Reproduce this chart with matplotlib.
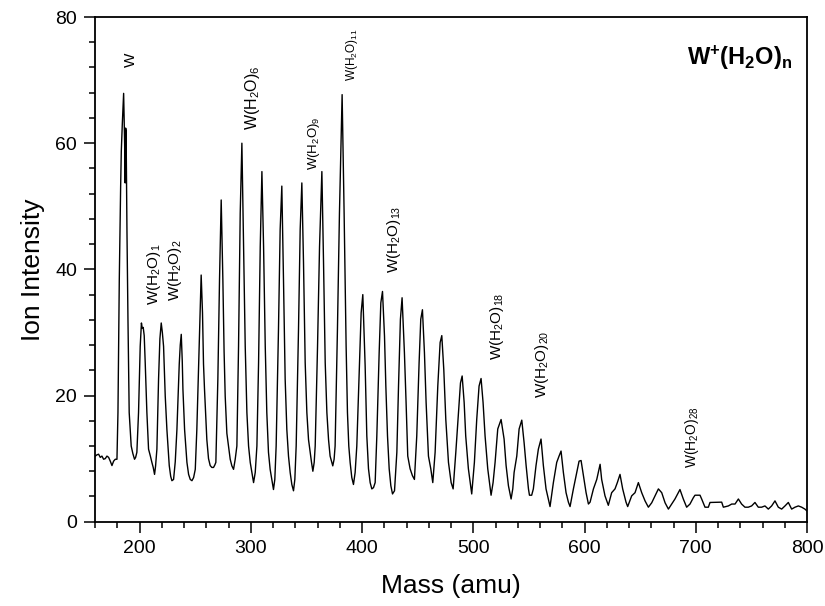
import matplotlib
matplotlib.use("Agg")
import matplotlib.pyplot as plt
from matplotlib.ticker import MultipleLocator

plt.rcParams["font.family"] = ["Liberation Sans", "DejaVu Sans"]
plt.rcParams["mathtext.default"] = "regular"

# trace (mass in amu, ion intensity)
mass = [
    160.2, 161.7, 163.2, 164.7, 166.2, 167.7, 169.2, 170.7, 172.2, 173.7,
    175.2, 176.7, 178.2, 179.7, 180.6, 181.8, 183.0, 183.6, 184.5, 185.7,
    186.6, 187.1, 187.5, 187.9, 188.7, 189.6, 190.7, 192.5, 194.0, 195.5,
    196.5, 197.6, 199.1, 200.6, 201.7, 202.4, 203.3, 204.2, 205.1, 206.6,
    208.1, 209.6, 211.1, 212.3, 213.5, 214.4, 215.6, 217.1, 218.3, 219.5,
    220.5, 221.6, 223.1, 224.6, 226.7, 228.0, 229.1, 230.6, 232.1, 233.6,
    235.7, 236.6, 237.5, 238.4, 239.0, 240.5, 242.6, 244.1, 245.6, 247.1,
    248.6, 250.1, 251.5, 253.6, 254.6, 255.4, 256.6, 257.5, 258.4, 260.5,
    262.0, 263.5, 265.0, 266.5, 267.7, 268.6, 270.4, 271.9, 273.4, 274.9,
    276.0, 277.0, 278.5, 280.0, 281.5,
    283.0, 284.5, 286.0, 287.5, 289.0, 290.5, 292.0, 293.5, 295.0, 296.5,
    298.0, 299.5, 301.0, 302.5, 304.0, 305.5, 307.0, 308.5, 310.0, 311.5,
    313.0, 314.4, 315.9, 317.4, 318.9, 320.4, 321.6, 322.8, 324.9, 326.4,
    327.9, 329.4, 330.9, 332.4, 333.9, 335.4, 336.9, 338.4, 339.6, 340.8,
    342.9, 344.4, 345.9, 347.4, 348.9, 350.4, 351.9, 353.4, 354.6, 355.8,
    357.0, 357.9, 360.0, 361.8, 363.9, 365.4, 366.9, 368.4, 369.9, 371.3,
    373.7, 374.9, 375.8, 377.9, 379.7, 382.1, 383.9, 385.7, 386.9, 388.1,
    389.3, 390.8, 392.3, 393.8, 395.3, 397.7, 399.2, 400.7,
    402.8, 404.3, 405.8, 407.3, 408.8, 410.3, 411.8, 413.3, 415.4, 416.9,
    418.4, 420.2, 421.4, 422.9, 424.4, 425.9, 427.4, 429.2, 431.3, 432.8,
    434.5, 436.0, 438.1, 439.6, 441.1, 443.2, 445.3, 447.1, 449.2, 451.3,
    452.8, 454.3, 456.1, 457.6, 459.7, 461.8, 463.6, 465.7, 468.1, 470.2,
    471.7, 473.5, 475.3, 477.7, 480.1, 481.9, 484.3, 486.7, 488.5, 490.0,
    491.8, 493.2, 495.6, 498.6, 501.0, 503.1, 505.2, 507.0, 508.8, 510.6,
    513.0, 516.0, 517.8, 519.6, 522.0,
    525.0, 527.7, 529.5, 531.6, 534.0, 535.5, 536.7, 539.1, 541.2, 543.6,
    545.7, 547.5, 549.6, 550.5, 552.5, 554.0, 556.4, 558.5, 560.9, 563.0,
    565.4, 567.5, 569.0, 572.0, 575.0, 577.1, 578.9, 581.0, 583.4, 585.5,
    587.0, 590.0, 592.4, 595.1, 596.9, 599.0, 601.4, 603.5, 605.0, 608.0,
    611.0, 614.0, 615.4, 618.4, 621.4, 624.4, 627.4, 629.5, 631.9, 634.3,
    637.3, 638.8, 642.4, 645.4, 648.4,
    651.4, 654.4, 657.4, 660.4, 663.4, 666.4, 669.4, 672.4, 675.4, 678.3,
    681.3, 685.8, 688.8, 691.8, 694.8, 697.8, 699.3, 703.8, 705.3, 708.3,
    711.3, 712.8, 723.3, 724.8, 729.3, 732.3, 735.3, 738.3, 741.2, 744.2,
    747.2, 750.2, 753.2, 756.2, 759.2, 762.2, 765.2, 768.2, 771.2, 774.2,
    777.2, 780.2, 783.2, 786.2, 789.2, 792.2, 795.2, 798.1, 800.0,
]
intensity = [
    10.4, 10.6, 10.7, 10.2, 10.4, 9.9, 10.0, 10.4, 10.2, 9.6,
    8.9, 9.6, 9.9, 9.9, 17.3, 38.4, 53.0, 58.7, 63.0, 67.9,
    60.0, 53.7, 62.4, 62.0, 46.0, 32.0, 17.3, 12.0, 10.8, 9.9,
    10.2, 11.0, 17.3, 27.8, 31.5, 30.7, 30.8, 29.5, 25.2, 17.3,
    11.5, 10.5, 9.4, 8.6, 7.5, 8.8, 11.5, 22.6, 29.0, 31.5,
    30.0, 27.8, 19.9, 14.6, 8.9, 7.2, 6.5, 6.7, 9.5, 14.6,
    25.0, 28.0, 29.7, 25.5, 21.0, 14.6, 9.4, 7.5, 6.7, 6.5,
    7.0, 8.3, 14.6, 27.8, 34.0, 39.1, 33.1, 25.0, 21.0, 13.0,
    10.0, 8.9, 8.6, 8.6, 9.0, 9.4, 22.6, 38.4, 51.0, 38.4,
    27.0, 19.9, 14.0, 12.0, 9.9,
    8.85, 8.3, 9.9, 12.0, 27.8, 48.9, 60.0, 43.6, 27.8, 17.3,
    12.0, 9.4, 7.8, 6.2, 7.8, 12.0, 25.2, 43.6, 55.5, 43.6,
    27.8, 17.3, 11.0, 8.3, 6.7, 5.1, 6.7, 12.0, 30.5, 46.3,
    53.2, 38.4, 22.6, 14.6, 10.4, 7.8, 5.9, 4.9, 6.7, 12.0,
    30.5, 46.3, 53.7, 41.0, 25.2, 17.3, 13.0, 11.0, 9.4, 8.0,
    9.4, 12.0, 27.8, 43.6, 55.5, 41.0, 25.2, 17.3, 13.0, 10.4,
    8.85, 9.9, 12.0, 30.5, 48.9, 67.7, 48.9, 27.8, 17.3, 12.0,
    9.4, 7.0, 5.9, 7.8, 12.0, 25.2, 33.1, 36.0,
    24.7, 13.6, 8.4, 6.2, 5.2, 5.4, 6.2, 13.6, 26.8, 34.7,
    36.5, 29.4, 21.5, 13.6, 8.4, 5.7, 4.4, 4.9, 11.0, 21.5,
    32.1, 35.5, 26.8, 18.9, 10.4, 8.4, 7.3, 6.7, 13.6, 25.2,
    32.1, 33.6, 26.8, 18.9, 10.4, 8.4, 6.2, 11.0, 21.5, 28.4,
    29.5, 24.1, 16.2, 9.4, 6.2, 5.2, 11.0, 17.3, 22.0, 23.1,
    18.9, 13.6, 8.4, 4.4, 9.4, 16.2, 21.5, 22.7, 18.9, 13.6,
    8.4, 4.2, 6.2, 9.4, 14.7,
    16.2, 13.1, 8.9, 5.7, 3.6, 5.2, 7.8, 10.4, 14.7, 16.1,
    12.5, 8.9, 5.2, 4.2, 4.2, 5.2, 8.9, 11.5, 13.1, 8.9,
    5.2, 3.6, 2.4, 6.2, 9.4, 10.4, 11.2, 7.8, 4.6, 3.1,
    2.4, 5.2, 7.3, 9.6, 9.7, 7.3, 4.6, 2.8, 3.1, 5.2,
    6.7, 9.1, 6.7, 4.1, 2.6, 4.6, 5.2, 6.2, 7.5, 5.2,
    3.1, 2.4, 4.1, 4.6, 6.2,
    4.6, 3.3, 2.3, 3.0, 4.1, 5.2, 4.6, 3.0, 2.0, 2.8,
    3.6, 5.1, 3.6, 2.3, 2.8, 3.8, 4.2, 4.2, 3.6, 2.3,
    2.3, 3.05, 3.1, 2.3, 2.5, 2.8, 2.8, 3.6, 2.8, 2.3,
    2.3, 2.5, 3.05, 2.3, 2.3, 2.5, 2.0, 2.5, 3.3, 2.3,
    2.0, 2.5, 3.05, 2.0, 2.3, 2.5, 2.3, 2.0, 1.7,
]

# peak annotations
peak_labels = ["W", "W(H$_2$O)$_1$", "W(H$_2$O)$_2$", "W(H$_2$O)$_6$",
               "W(H$_2$O)$_9$", "W(H$_2$O)$_{11}$", "W(H$_2$O)$_{13}$",
               "W(H$_2$O)$_{18}$", "W(H$_2$O)$_{20}$", "W(H$_2$O)$_{28}$"]
label_mass = [192.4, 212.6, 231.6, 301.7, 357.1, 391.0, 428.8, 521.1, 561.8, 697.0]
label_height = [72.1, 34.4, 35.0, 62.1, 55.8, 69.9, 39.4, 25.7, 19.6, 8.5]
label_size = [11, 11, 11, 11.5, 9.5, 8.5, 11, 11, 11, 10]

fig, ax = plt.subplots(figsize=(8.25, 6.06), dpi=100)
fig.subplots_adjust(left=0.1152, right=0.9782, top=0.9719, bottom=0.1391)

ax.plot(mass, intensity, color="black", lw=1.0)

for txt, x, y, fs in zip(peak_labels, label_mass, label_height, label_size):
    ax.text(x, y, txt, rotation=90, ha="center", va="bottom", fontsize=fs)

ax.text(0.98, 0.948, "W$^{+}$(H$_2$O)$_n$", transform=ax.transAxes,
        ha="right", va="top", fontsize=17, fontweight="bold")

ax.set_xlim(160, 800)
ax.set_ylim(0, 80)
ax.xaxis.set_major_locator(MultipleLocator(100))
ax.xaxis.set_minor_locator(MultipleLocator(20))
ax.yaxis.set_major_locator(MultipleLocator(20))
ax.yaxis.set_minor_locator(MultipleLocator(4))

for s in ax.spines.values():
    s.set_linewidth(1.3)
ax.tick_params(which="major", length=8, width=1.1, labelsize=14, pad=5)
ax.tick_params(which="minor", length=4, width=1.1)

ax.set_xlabel("Mass (amu)", fontsize=19)
ax.set_ylabel("Ion Intensity", fontsize=19)
ax.xaxis.set_label_coords(0.5, -0.104)
ax.yaxis.set_label_coords(-0.07, 0.5)

plt.savefig("out.png", dpi=100)
